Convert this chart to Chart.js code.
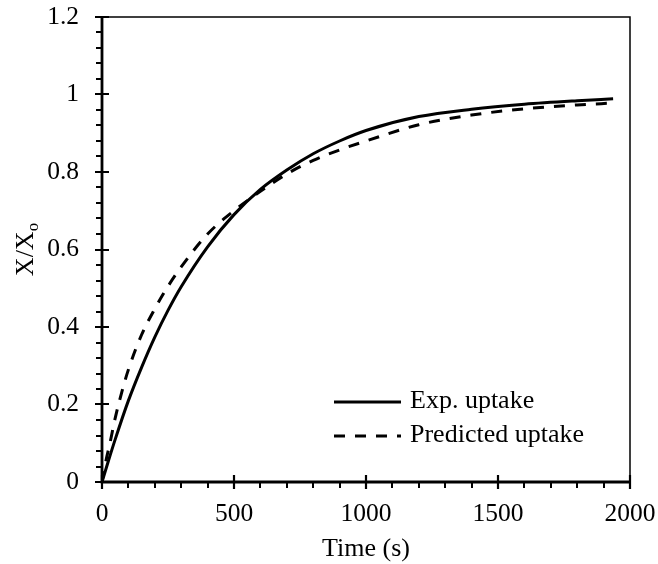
<!DOCTYPE html>
<html>
<head>
<meta charset="utf-8">
<script src="https://cdn.jsdelivr.net/npm/chart.js@4.4.1/dist/chart.umd.min.js"></script>
<style>
  html, body { margin: 0; padding: 0; background: #fff; }
  #wrap { width: 658px; height: 564px; }
</style>
</head>
<body>
<div id="wrap"><canvas id="uptakeChart" width="658" height="564"></canvas></div>
<script>
// measured curve (solid)
const timeExp   = [0, 25, 50, 100, 150, 200, 250, 300, 400, 500, 600, 700, 800, 900, 1000, 1200, 1400, 1600, 1800, 1936];
const uptakeExp = [0, 0.056, 0.11, 0.21, 0.296, 0.374, 0.443, 0.504, 0.607, 0.69, 0.755, 0.805, 0.847, 0.88, 0.907, 0.943, 0.962, 0.975, 0.984, 0.989];

// model curve (dashed)
const timePred   = [0, 15, 30, 50, 75, 100, 150, 200, 250, 300, 400, 500, 600, 700, 800, 900, 1000, 1200, 1400, 1600, 1800, 1936];
const uptakePred = [0, 0.055, 0.10, 0.165, 0.232, 0.29, 0.38, 0.447, 0.505, 0.555, 0.64, 0.70, 0.75, 0.795, 0.83, 0.857, 0.88, 0.922, 0.947, 0.963, 0.973, 0.978];

const seriesNames = ["Exp. uptake", "Predicted uptake"];
const xTicks = [0, 500, 1000, 1500, 2000];
const yTicks = [0, 0.2, 0.4, 0.6, 0.8, 1, 1.2];
const xMinorStep = 100;
const yMinorStep = 0.04;

const FONT = "'Liberation Serif', 'Times New Roman', serif";
const TEXT_SIZE = 26;
const TICK_SIZE = 25.5;
const PRED_DASH = [11, 10];

const toPoints = (xs, ys) => xs.map((x, i) => ({ x: x, y: ys[i] }));

// axes, ticks, frame, titles and legend
const decor = {
  id: "decor",
  afterDraw(chart) {
    const ctx = chart.ctx;
    const a = chart.chartArea;
    const xs = chart.scales.x, ys = chart.scales.y;
    ctx.save();
    ctx.strokeStyle = "#000";
    ctx.fillStyle = "#000";

    // thin frame top / right
    ctx.lineWidth = 1.5;
    ctx.beginPath();
    ctx.moveTo(a.left, a.top); ctx.lineTo(a.right, a.top); ctx.lineTo(a.right, a.bottom);
    ctx.stroke();

    // minor ticks (outside)
    ctx.lineWidth = 2;
    ctx.beginPath();
    for (let v = xs.min; v <= xs.max + 1e-9; v += xMinorStep) {
      const p = Math.round(xs.getPixelForValue(v));
      ctx.moveTo(p, a.bottom); ctx.lineTo(p, a.bottom + 6);
    }
    for (let v = ys.min; v <= ys.max + 1e-9; v += yMinorStep) {
      const p = Math.round(ys.getPixelForValue(v));
      ctx.moveTo(a.left, p); ctx.lineTo(a.left - 6, p);
    }
    ctx.stroke();

    // major ticks (cross)
    ctx.lineWidth = 2.2;
    ctx.beginPath();
    xTicks.forEach(v => {
      const p = Math.round(xs.getPixelForValue(v));
      ctx.moveTo(p, a.bottom - 7); ctx.lineTo(p, a.bottom + 7);
    });
    yTicks.forEach(v => {
      const p = Math.round(ys.getPixelForValue(v));
      ctx.moveTo(a.left - 7, p); ctx.lineTo(a.left + 7, p);
    });
    ctx.stroke();

    // main axes
    ctx.lineWidth = 2.8;
    ctx.beginPath();
    ctx.moveTo(a.left, a.top - 1); ctx.lineTo(a.left, a.bottom); ctx.lineTo(a.right + 1, a.bottom);
    ctx.stroke();

    // x title
    ctx.font = TEXT_SIZE + "px " + FONT;
    ctx.textAlign = "center";
    ctx.textBaseline = "alphabetic";
    ctx.fillText("Time (s)", (a.left + a.right) / 2, a.bottom + 74);

    // y title, X/X with subscript o
    ctx.save();
    ctx.translate(33, (a.top + a.bottom) / 2);
    ctx.rotate(-Math.PI / 2);
    ctx.font = TEXT_SIZE + "px " + FONT;
    const mainW = ctx.measureText("X/X").width;
    ctx.font = "17px " + FONT;
    const subW = ctx.measureText("o").width;
    const start = -(mainW + subW) / 2;
    ctx.textAlign = "left";
    ctx.font = TEXT_SIZE + "px " + FONT;
    ctx.fillText("X/X", start, 0);
    ctx.font = "17px " + FONT;
    ctx.fillText("o", start + mainW, 5);
    ctx.restore();

    // legend
    const lx0 = a.left + 232, lx1 = a.left + 299;
    const rows = [a.bottom - 80, a.bottom - 46];
    ctx.lineWidth = 3;
    rows.forEach((y, i) => {
      ctx.setLineDash(i === 1 ? PRED_DASH : []);
      ctx.beginPath();
      ctx.moveTo(lx0, y); ctx.lineTo(lx1, y);
      ctx.stroke();
    });
    ctx.setLineDash([]);
    ctx.font = TEXT_SIZE + "px " + FONT;
    ctx.textAlign = "left";
    rows.forEach((y, i) => ctx.fillText(seriesNames[i], lx1 + 9, y + 6));

    ctx.restore();
  }
};

new Chart(document.getElementById("uptakeChart"), {
  type: "scatter",
  data: {
    datasets: [
      {
        label: seriesNames[0],
        data: toPoints(timeExp, uptakeExp),
        showLine: true,
        borderColor: "#000",
        borderWidth: 3,
        pointRadius: 0,
        cubicInterpolationMode: "monotone",
      },
      {
        label: seriesNames[1],
        data: toPoints(timePred, uptakePred),
        showLine: true,
        borderColor: "#000",
        borderWidth: 3,
        borderDash: PRED_DASH,
        pointRadius: 0,
        cubicInterpolationMode: "monotone",
      },
    ],
  },
  options: {
    responsive: false,
    animation: false,
    layout: { padding: { top: 17, right: 28, left: 0, bottom: 0 } },
    plugins: { legend: { display: false }, tooltip: { enabled: false } },
    scales: {
      x: {
        type: "linear",
        min: 0, max: 2000,
        afterFit(s) { s.height = 82; s.paddingLeft = 0; s.paddingRight = 0; },
        afterBuildTicks(s) { s.ticks = xTicks.map(v => ({ value: v })); },
        grid: { display: false, drawTicks: false },
        border: { display: false },
        ticks: { padding: 17, color: "#000", font: { family: FONT, size: TICK_SIZE }, maxRotation: 0, callback: v => String(v) },
      },
      y: {
        type: "linear",
        min: 0, max: 1.2,
        afterFit(s) { s.width = 102; s.paddingTop = 0; s.paddingBottom = 0; },
        afterBuildTicks(s) { s.ticks = yTicks.map(v => ({ value: v })); },
        grid: { display: false, drawTicks: false },
        border: { display: false },
        ticks: { padding: 23, color: "#000", font: { family: FONT, size: TICK_SIZE }, callback: v => String(v) },
      },
    },
  },
  plugins: [decor],
});
</script>
</body>
</html>
